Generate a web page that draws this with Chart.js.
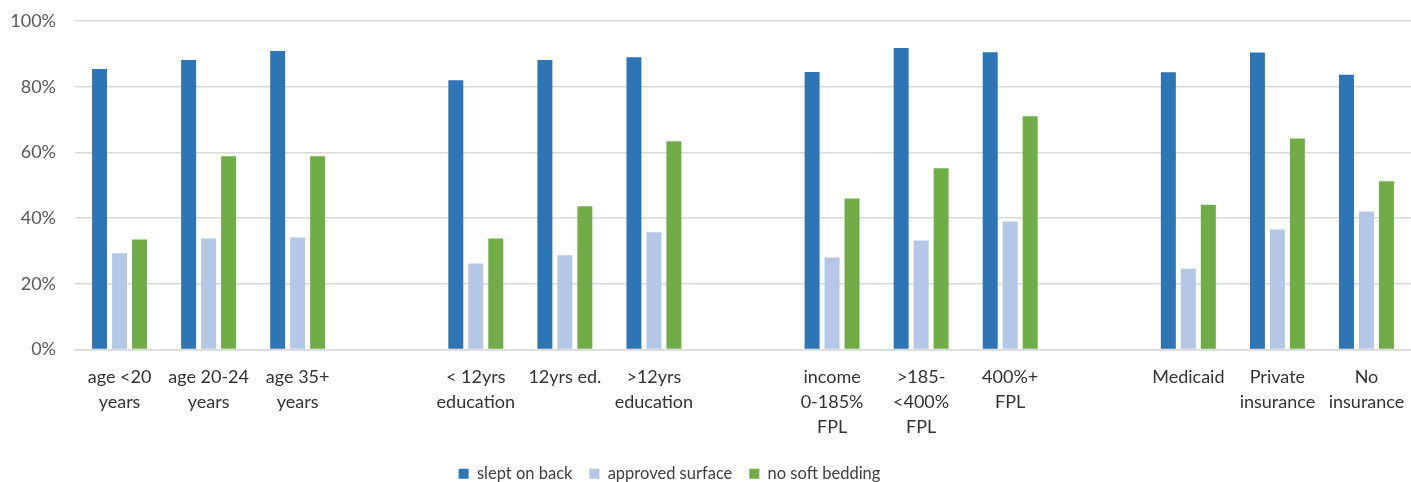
<!DOCTYPE html>
<html>
<head>
<meta charset="utf-8">
<script src="https://cdn.jsdelivr.net/npm/chart.js@4/dist/chart.umd.min.js"></script>
<style>
  html, body { margin: 0; padding: 0; background: #fff; }
  #wrap { width: 1411px; height: 482px; }
</style>
</head>
<body>
<div id="wrap"><canvas id="c" width="1411" height="482"></canvas></div>
<script>
// Category labels (blank entries are spacer slots between groups)
const categories = [
  ['age <20', 'years'], ['age 20-24', 'years'], ['age 35+', 'years'], '',
  ['< 12yrs', 'education'], ['12yrs ed.'], ['>12yrs', 'education'], '',
  ['income', '0-185%', 'FPL'], ['>185-', '<400%', 'FPL'], ['400%+', 'FPL'], '',
  ['Medicaid'], ['Private', 'insurance'], ['No', 'insurance']
];

// Percent of infants per safe-sleep practice
const sleptOnBack      = [85.4, 88.1, 90.9, null, 82.0, 88.1, 89.0, null, 84.5, 91.8, 90.5, null, 84.4, 90.4, 83.6];
const approvedSurface  = [29.3, 33.8, 34.1, null, 26.2, 28.7, 35.7, null, 28.0, 33.2, 39.0, null, 24.6, 36.5, 42.0];
const noSoftBedding    = [33.5, 58.8, 58.8, null, 33.8, 43.6, 63.4, null, 46.0, 55.2, 71.0, null, 44.1, 64.2, 51.2];

const yTicks = [0, 20, 40, 60, 80, 100];

const FONT = 'Lato, "Open Sans", sans-serif';

// Place the legend block near the bottom edge, under the middle of the bars
const legendShift = {
  id: 'legendShift',
  afterLayout(chart) {
    const lg = chart.legend;
    if (!lg) return;
    const h = lg.bottom - lg.top;
    lg.top = chart.height - h + 10;
    lg.bottom = lg.top + h;
    lg.left -= 36;
    lg.right -= 36;
  }
};

new Chart(document.getElementById('c'), {
  type: 'bar',
  data: {
    labels: categories,
    datasets: [
      { label: 'slept on back', data: sleptOnBack, backgroundColor: '#2E75B6' },
      { label: 'approved surface', data: approvedSurface, backgroundColor: '#B4C7E7' },
      { label: 'no soft bedding', data: noSoftBedding, backgroundColor: '#70AD47' }
    ]
  },
  options: {
    responsive: false,
    animation: false,
    devicePixelRatio: 1,
    layout: { padding: { top: 21, right: 0, left: 0, bottom: -11 } },
    datasets: { bar: { categoryPercentage: 0.673, barPercentage: 0.75 } },
    plugins: {
      tooltip: { enabled: false },
      legend: {
        position: 'bottom',
        labels: {
          font: { family: FONT, size: 16.5 },
          color: '#404040',
          boxWidth: 10,
          boxHeight: 10,
          padding: 17
        }
      }
    },
    scales: {
      x: {
        afterFit(s) { s.height = 100; s.paddingLeft = 0; s.paddingRight = 0; },
        grid: { display: false, drawTicks: false },
        border: { display: true, color: '#D9D9D9', width: 1.5 },
        ticks: {
          autoSkip: false,
          maxRotation: 0,
          minRotation: 0,
          padding: 15,
          color: '#333333',
          font: { family: FONT, size: 18, lineHeight: 1.39 }
        }
      },
      y: {
        min: 0,
        max: 100,
        afterFit(s) { s.width = 75; s.paddingTop = 0; s.paddingBottom = 0; },
        afterBuildTicks(s) { s.ticks = yTicks.map(v => ({ value: v })); },
        grid: { color: '#D9D9D9', lineWidth: 1.5, drawTicks: false },
        border: { display: false },
        ticks: {
          padding: 19,
          color: '#595959',
          font: { family: FONT, size: 18 },
          callback: v => v + '%'
        }
      }
    }
  },
  plugins: [legendShift]
});
</script>
</body>
</html>
